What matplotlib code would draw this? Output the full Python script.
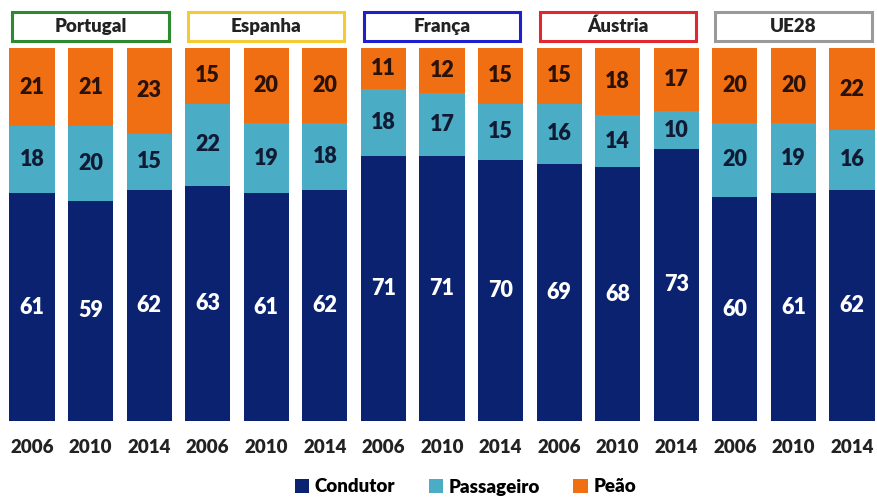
import matplotlib
matplotlib.use("Agg")
import matplotlib.pyplot as plt
from matplotlib.patches import Rectangle

countries = ["Portugal", "Espanha", "França", "Áustria", "UE28"]
country_colors = ["#2f8a2f", "#f2cc30", "#1f1fd0", "#e02830", "#9a9a9a"]
years = ["2006", "2010", "2014"]
condutor = [61, 59, 62, 63, 61, 62, 71, 71, 70, 69, 68, 73, 60, 61, 62]
passageiro = [18, 20, 15, 22, 19, 18, 18, 17, 15, 16, 14, 10, 20, 19, 16]
peao = [21, 21, 23, 15, 20, 20, 11, 12, 15, 15, 18, 17, 20, 20, 22]
series_names = ["Condutor", "Passageiro", "Peão"]
series_colors = ["#0b2270", "#4bacc6", "#ef6f12"]

plt.rcParams['font.family'] = ['Lato', 'DejaVu Sans']

fig = plt.figure(figsize=(8.78, 5.03), dpi=100)
W, H = 878, 503
ax = fig.add_axes([0, 1 - 421 / H, 1, (421 - 48) / H])

n = len(condutor)
x = list(range(n))
px_per_unit = 58.57
ax.set_xlim(-32 / px_per_unit, -32 / px_per_unit + W / px_per_unit)
ax.set_ylim(0, 100)

bw = 0.77
bottoms = [0] * n
for vals, name, col, tcol in zip([condutor, passageiro, peao], series_names, series_colors,
                                 ["white", "#111a33", "#2a1208"]):
    ax.bar(x, vals, bw, bottom=bottoms, color=col, label=name, linewidth=0)
    for xi, b, v in zip(x, bottoms, vals):
        ax.text(xi, b + v / 2, str(v), ha="center", va="center", fontsize=15.5,
                fontweight="heavy", color=tcol)
    bottoms = [b + v for b, v in zip(bottoms, vals)]

ax.set_xticks(x)
ax.set_xticklabels(years * len(countries), fontsize=13.5, fontweight="heavy", color="#222222")
ax.tick_params(axis="x", length=0, pad=13)
ax.set_yticks([])
for s in ax.spines.values():
    s.set_visible(False)

# country header boxes
for i, (c, col) in enumerate(zip(countries, country_colors)):
    left = 3 * i - bw / 2 + 0.05
    right = 3 * i + 2 + bw / 2 - 0.05
    rect = Rectangle((left, 102.0), right - left, 7.6, transform=ax.transData,
                     fill=False, edgecolor=col, linewidth=2.2, clip_on=False)
    ax.add_patch(rect)
    ax.text((left + right) / 2, 105.8, c, ha="center", va="center", fontsize=13.5,
            fontweight="heavy", color="#222222", clip_on=False)

handles, labels = ax.get_legend_handles_labels()
fig.legend(handles, labels, loc="center", bbox_to_anchor=(0.53, 1 - 487 / H), ncol=3,
           frameon=False, prop={"weight": "heavy", "size": 13.5},
           handlelength=0.75, handleheight=0.75, handletextpad=0.3, columnspacing=1.8)

fig.savefig("out.png", dpi=100, facecolor="white")
